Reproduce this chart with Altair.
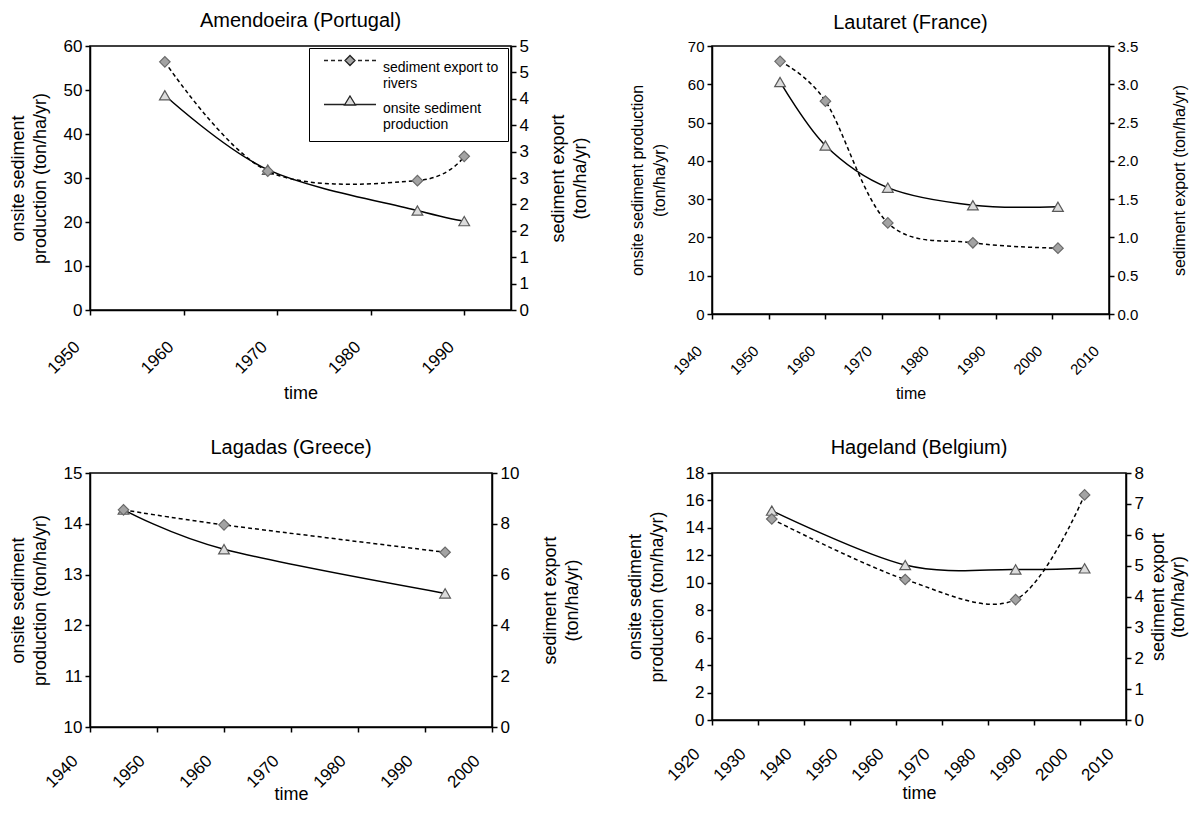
import altair as alt
import pandas as pd

FONT = "Liberation Sans"

# ---------------- data ----------------
# Amendoeira (Portugal)
am_years = [1958, 1969, 1985, 1990]
am_prod = [48.8, 31.9, 22.6, 20.2]
am_export = [4.70, 2.63, 2.45, 2.91]
# Lautaret (France)
la_years = [1952, 1960, 1971, 1986, 2001]
la_prod = [60.6, 44.0, 33.0, 28.4, 28.0]
la_export = [3.30, 2.78, 1.19, 0.93, 0.86]
# Lagadas (Greece)
lg_years = [1945, 1960, 1993]
lg_prod = [14.28, 13.50, 12.63]
lg_export = [8.55, 7.96, 6.88]
# Hageland (Belgium)
hg_years = [1933, 1962, 1986, 2001]
hg_prod = [15.26, 11.29, 10.97, 11.05]
hg_export = [6.51, 4.55, 3.90, 7.29]

series_names = ["sediment export to rivers", "onsite sediment production"]

# ---------------- legend symbols (line + marker) ----------------
def _u(v):
    return round(v / 10.0, 3)

YOFF = -7.5
def _seg(x1, x2, y):
    return f"M{_u(x1)},{_u(y + YOFF)}L{_u(x2)},{_u(y + YOFF)}"

exp_path = "".join(_seg(a, b, 0) for a, b in [(-26, -22), (-19, -15), (-12, -8), (8, 12), (15, 19), (22, 26)])
exp_path += f"M0,{_u(-5 + YOFF)}L{_u(5)},{_u(YOFF)}L0,{_u(5 + YOFF)}L{_u(-5)},{_u(YOFF)}Z"
prod_path = _seg(-26, -5, 3) + _seg(5, 26, 3)
prod_path += f"M0,{_u(-5.5 + YOFF)}L{_u(5.5)},{_u(3.5 + YOFF)}L{_u(-5.5)},{_u(3.5 + YOFF)}Z"

DIAMOND_FILL = "#a3a3a3"
DIAMOND_STROKE = "#6a6a6a"
TRI_FILL = "#dcdcdc"
TRI_STROKE = "#5a5a5a"


def panel(title, years, prod, export, xdom, xticks, ldom, lticks, rdom, rticks,
          ltitle, rtitle, width, height, fs_tick, fs_title, r_label_expr=None,
          r_format=None, ltp=14, rtp=18, xtp=8, lpad=24, loff=-14, rlh=22, legend=False):
    df = pd.DataFrame({"year": years, "prod": prod, "export": export})
    base = alt.Chart(df)
    common_axis = dict(labelFont=FONT, titleFont=FONT, labelColor="black", titleColor="black",
                       domainColor="black", tickColor="black", domainWidth=1.5, tickWidth=1.5,
                       tickSize=5, grid=False, titleFontWeight="normal", labelFlush=False,
                       labelOverlap=False, labelFontSize=fs_tick, titleFontSize=fs_title)
    x = alt.X("year:Q", scale=alt.Scale(domain=xdom, nice=False, zero=False),
              axis=alt.Axis(values=xticks, format="d", labelAngle=-45, labelAlign="right",
                            labelBaseline="middle", labelOffset=loff, labelPadding=lpad,
                            title="time", titlePadding=xtp, **common_axis))
    yl_axis = alt.Axis(values=lticks, orient="left", title=ltitle, titlePadding=ltp,
                       labelPadding=3, titleLineHeight=22, **common_axis)
    r_kwargs = dict(values=rticks, orient="right", title=rtitle, titlePadding=rtp,
                    titleAngle=270, titleBaseline="top", labelPadding=3,
                    titleLineHeight=rlh, **common_axis)
    if r_label_expr:
        r_kwargs["labelExpr"] = r_label_expr
    if r_format:
        r_kwargs["format"] = r_format
    yr_axis = alt.Axis(**r_kwargs)
    yl = alt.Y("prod:Q", scale=alt.Scale(domain=ldom, nice=False, zero=False), axis=yl_axis)
    yr = alt.Y("export:Q", scale=alt.Scale(domain=rdom, nice=False, zero=False), axis=yr_axis)

    prod_line = base.mark_line(color="black", strokeWidth=1.5, interpolate="cardinal").encode(x=x, y=yl)
    prod_pts = base.mark_point(shape="triangle-up", filled=True, fill=TRI_FILL, stroke=TRI_STROKE,
                               strokeWidth=1.2, size=115, opacity=1).encode(x=x, y=yl)
    exp_line = base.mark_line(color="black", strokeWidth=1.5, strokeDash=[4, 3],
                              interpolate="cardinal").encode(x=x, y=yr)
    exp_pts = base.mark_point(shape="diamond", filled=True, fill=DIAMOND_FILL, stroke=DIAMOND_STROKE,
                              strokeWidth=1.2, size=110, opacity=1).encode(x=x, y=yr)
    left = alt.layer(prod_line, prod_pts)
    right_layers = [exp_line, exp_pts]
    if legend:
        ldf = pd.DataFrame({"series": series_names})
        leg = alt.Legend(orient="none", legendX=219, legendY=2, title=None,
                         strokeColor="black", fillColor="white", padding=9,
                         symbolSize=400, symbolOffset=21, labelOffset=22, rowPadding=2,
                         symbolStrokeColor="#222222", symbolStrokeWidth=1.3, symbolOpacity=1,
                         labelFont=FONT, labelFontSize=14, labelColor="black", labelLimit=300,
                         labelExpr="datum.label == 'sediment export to rivers' ? ['sediment export to', 'rivers'] : ['onsite sediment', 'production']")
        leg_layer = alt.Chart(ldf).mark_point(filled=False, strokeWidth=1.3, opacity=1).encode(
            shape=alt.Shape("series:N", scale=alt.Scale(domain=series_names, range=[exp_path, prod_path]), legend=leg),
            fill=alt.Fill("series:N", scale=alt.Scale(domain=series_names, range=[DIAMOND_FILL, TRI_FILL]), legend=leg),
            stroke=alt.Stroke("series:N", scale=alt.Scale(domain=series_names, range=["#222222", "#222222"]), legend=leg),
        ).transform_filter("false")
        right_layers.append(leg_layer)
    right = alt.layer(*right_layers)
    ch = alt.layer(left, right).resolve_scale(y="independent").properties(
        width=width, height=height,
        title=alt.TitleParams(title, font=FONT, fontSize=20, fontWeight="normal", color="black",
                              anchor="middle", frame="group", offset=6))
    return ch


p1 = panel("Amendoeira (Portugal)", am_years, am_prod, am_export,
           [1950, 1995], [1950, 1960, 1970, 1980, 1990],
           [0, 60], list(range(0, 61, 10)),
           [0, 5], [i * 0.5 for i in range(11)],
           ["onsite sediment", "production (ton/ha/yr)"], ["sediment export", "(ton/ha/yr)"],
           421, 264, 17, 18, r_label_expr="round(datum.value)", ltp=14, rtp=-1, xtp=8,
           lpad=29, loff=-13, legend=True)
p2 = panel("Lautaret (France)", la_years, la_prod, la_export,
           [1940, 2010], list(range(1940, 2011, 10)),
           [0, 70], list(range(0, 71, 10)),
           [0, 3.5], [i * 0.5 for i in range(8)],
           ["onsite sediment production", "(ton/ha/yr)"], "sediment export (ton/ha/yr)",
           397, 268, 15, 16, r_format=".1f", ltp=20, rtp=34, xtp=8, lpad=29, loff=-13)
p3 = panel("Lagadas (Greece)", lg_years, lg_prod, lg_export,
           [1940, 2000], list(range(1940, 2001, 10)),
           [10, 15], list(range(10, 16)),
           [0, 10], list(range(0, 11, 2)),
           ["onsite sediment", "production (ton/ha/yr)"], ["sediment export", "(ton/ha/yr)"],
           402, 254, 17, 18, ltp=14, rtp=1, xtp=-5, lpad=26, loff=-15)
p4 = panel("Hageland (Belgium)", hg_years, hg_prod, hg_export,
           [1920, 2010], list(range(1920, 2011, 10)),
           [0, 18], list(range(0, 19, 2)),
           [0, 8], list(range(0, 9)),
           ["onsite sediment", "production (ton/ha/yr)"], ["sediment export", "(ton/ha/yr)"],
           414, 247, 17, 18, ltp=19, rtp=-14, xtp=1, lpad=26, loff=-15, rlh=20)

chart = alt.concat(p1, p2, p3, p4, columns=2, bounds="flush",
                   spacing={"row": 159, "column": 201}).resolve_scale(
    x="independent", y="independent").properties(
    padding={"left": 0, "top": 2, "right": 0, "bottom": 0},
    background="white",
).configure_view(stroke="black", strokeWidth=1.5)

chart.save("out.html", embed_options={"renderer": "svg", "actions": False})
